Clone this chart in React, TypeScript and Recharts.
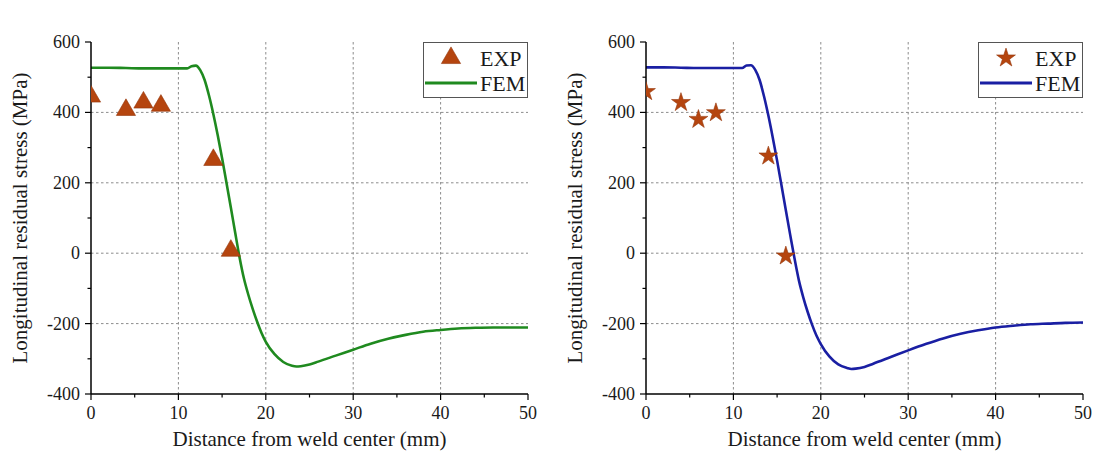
import React from 'react';
import {
  ComposedChart,
  Line,
  Scatter,
  XAxis,
  YAxis,
  CartesianGrid,
  Legend,
  Label,
  Symbols,
} from 'recharts';

// Distance from the weld centre (mm) at which the FEM profile is sampled
const femDistance = [
  0, 2, 4, 6, 8, 10, 11, 11.5, 12, 12.5, 13, 13.5, 14, 14.5, 15, 15.5, 16, 16.5, 17, 17.5,
  18, 18.5, 19, 19.5, 20, 21, 22, 23, 23.5, 24, 25, 26, 28, 30, 32, 34, 36, 38, 40, 42, 44,
  46, 48, 50,
];

// FEM longitudinal residual stress (MPa), B sample
const femB = [
  527, 527, 526, 525, 525, 525, 525, 531, 533, 520, 492, 448, 395, 335, 270, 200, 130, 58, -12,
  -72, -118, -158, -194, -226, -252, -287, -309, -320, -322, -321, -316, -308, -291, -274, -257,
  -243, -232, -223, -218, -214, -212, -211, -211, -211,
];

// FEM longitudinal residual stress (MPa), C sample
const femC = [
  528, 528, 527, 526, 526, 526, 526, 533, 534, 521, 492, 446, 391, 329, 263, 193, 122, 52, -16,
  -78, -126, -167, -203, -234, -258, -294, -316, -326, -329, -328, -323, -314, -295, -276, -258,
  -242, -229, -219, -211, -206, -202, -200, -198, -197,
];

// Measured points
const expDistance = [0, 4, 6, 8, 14, 16];
const expB = [445, 407, 428, 419, 265, 7];
const expC = [459, 428, 380, 399, 276, -8];

// Axis ticks (minor ticks sit halfway between labelled ones)
const xTicks = [0, 5, 10, 15, 20, 25, 30, 35, 40, 45, 50];
const yTicks = [-400, -300, -200, -100, 0, 100, 200, 300, 400, 500, 600];
const gridX = [10, 20, 30, 40];
const gridY = [-200, 0, 200, 400];

const FONT = '"Liberation Serif", "Times New Roman", serif';
const INK = '#1a1a1a';
const MARKER = '#B5450F';
const MARKER_EDGE = '#96380C';
const AREA: Record<string, number> = { triangle: 160, star: 110 };

const XTick = (props: any) => {
  const { x, y, payload } = props;
  const major = payload.value % 10 === 0;
  return (
    <g>
      <line x1={x} x2={x} y1={y} y2={y + (major ? 6 : 3.5)} stroke="#000" strokeWidth={1.2} />
      {major && (
        <text x={x} y={y + 25} textAnchor="middle" fontSize={18} fontFamily={FONT} fill={INK}>
          {payload.value}
        </text>
      )}
    </g>
  );
};

const YTick = (props: any) => {
  const { x, y, payload } = props;
  const major = payload.value % 200 === 0;
  return (
    <g>
      <line x1={x - (major ? 6 : 3.5)} x2={x} y1={y} y2={y} stroke="#000" strokeWidth={1.2} />
      {major && (
        <text x={x - 11} y={y + 6} textAnchor="end" fontSize={18} fontFamily={FONT} fill={INK}>
          {payload.value}
        </text>
      )}
    </g>
  );
};

const markerShape = (type: 'triangle' | 'star') => (p: any) => (
  <Symbols
    cx={p.cx}
    cy={p.cy}
    type={type}
    size={AREA[type]}
    fill={MARKER}
    stroke={MARKER_EDGE}
    strokeWidth={0.6}
  />
);

const legendContent = (props: any) => {
  const items = props.payload || [];
  return (
    <div style={{ width: 105, height: 56, boxSizing: 'border-box', border: '1px solid #555', background: '#fff' }}>
      <svg width={103} height={54} style={{ display: 'block' }}>
        {items.map((item: any, i: number) => {
          const cy = 15 + i * 25;
          return (
            <g key={item.value}>
              {item.type === 'line' ? (
                <line x1={1} x2={53} y1={cy} y2={cy} stroke={item.color} strokeWidth={3} />
              ) : (
                <Symbols
                  cx={27}
                  cy={cy}
                  type={item.type}
                  size={AREA[item.type] ?? 120}
                  fill={MARKER}
                  stroke={MARKER_EDGE}
                  strokeWidth={0.6}
                />
              )}
              <text x={56} y={cy + 7.5} fontSize={22} fontFamily={FONT} fill={INK}>
                {item.value}
              </text>
            </g>
          );
        })}
      </svg>
    </div>
  );
};

type PanelProps = {
  title: string;
  fem: number[];
  exp: number[];
  lineColor: string;
  marker: 'triangle' | 'star';
  left: number;
};

function StressPanel({ title, fem, exp, lineColor, marker, left }: PanelProps) {
  const femRows = femDistance.map((d, i) => ({ d, s: fem[i] }));
  const expRows = expDistance.map((d, i) => ({ d, s: exp[i] }));

  return (
    <div style={{ position: 'absolute', left, top: 0 }}>
      <ComposedChart width={540} height={457} margin={{ top: 42, right: 12, bottom: 0, left: 0 }}>
        <CartesianGrid
          verticalValues={gridX}
          horizontalValues={gridY}
          stroke="#8c8c8c"
          strokeDasharray="2.5 2.5"
        />
        <XAxis
          dataKey="d"
          type="number"
          domain={[0, 50]}
          ticks={xTicks}
          height={63}
          tickSize={0}
          tickMargin={0}
          tickLine={false}
          tick={<XTick />}
          axisLine={{ stroke: '#000', strokeWidth: 1.5 }}
          allowDataOverflow
        >
          <Label
            content={(p: any) => {
              const vb = p.viewBox;
              return (
                <text x={vb.x + vb.width / 2} y={vb.y + 52} textAnchor="middle" fontSize={21} fontFamily={FONT} fill={INK}>
                  Distance from weld center (mm)
                </text>
              );
            }}
          />
        </XAxis>
        <XAxis
          xAxisId="top"
          orientation="top"
          type="number"
          domain={[0, 50]}
          height={0}
          tick={false}
          tickLine={false}
          axisLine={{ stroke: '#444', strokeWidth: 1.5 }}
        >
          <Label
            content={(p: any) => {
              const vb = p.viewBox;
              return (
                <text x={vb.x + vb.width / 2} y={vb.y - 16} textAnchor="middle" fontSize={16} fontFamily={FONT} fill={INK}>
                  {title}
                </text>
              );
            }}
          />
        </XAxis>
        <YAxis
          type="number"
          domain={[-400, 600]}
          ticks={yTicks}
          width={91}
          tickSize={0}
          tickMargin={0}
          tickLine={false}
          tick={<YTick />}
          axisLine={{ stroke: '#000', strokeWidth: 1.5 }}
          allowDataOverflow
        >
          <Label
            content={(p: any) => {
              const vb = p.viewBox;
              const cx = vb.x + 20;
              const cy = vb.y + vb.height / 2;
              return (
                <text x={cx} y={cy} transform={`rotate(-90, ${cx}, ${cy})`} textAnchor="middle" dominantBaseline="central" fontSize={21} fontFamily={FONT} fill={INK}>
                  Longitudinal residual stress (MPa)
                </text>
              );
            }}
          />
        </YAxis>
        <YAxis
          yAxisId="right"
          orientation="right"
          type="number"
          domain={[-400, 600]}
          width={0}
          tick={false}
          tickLine={false}
          axisLine={{ stroke: '#333', strokeWidth: 1.5 }}
        />
        <Legend
          layout="horizontal"
          verticalAlign="middle"
          align="center"
          content={legendContent}
          wrapperStyle={{ left: 423, top: 42, width: 105, height: 56 }}
        />
        <Scatter
          name="EXP"
          data={expRows}
          dataKey="s"
          shape={markerShape(marker)}
          legendType={marker}
          fill={MARKER}
          isAnimationActive={false}
        />
        <Line
          name="FEM"
          data={femRows}
          dataKey="s"
          type="monotone"
          stroke={lineColor}
          strokeWidth={2.6}
          dot={false}
          activeDot={false}
          legendType="line"
          isAnimationActive={false}
        />
      </ComposedChart>
    </div>
  );
}

export default function App() {
  return (
    <div style={{ position: 'absolute', left: 0, top: 0, width: 1095, height: 457, background: '#fff' }}>
      <StressPanel title="B Sample" fem={femB} exp={expB} lineColor="#1F8A1F" marker="triangle" left={0} />
      <StressPanel title="C Sample" fem={femC} exp={expC} lineColor="#1A1FA3" marker="star" left={555} />
    </div>
  );
}
